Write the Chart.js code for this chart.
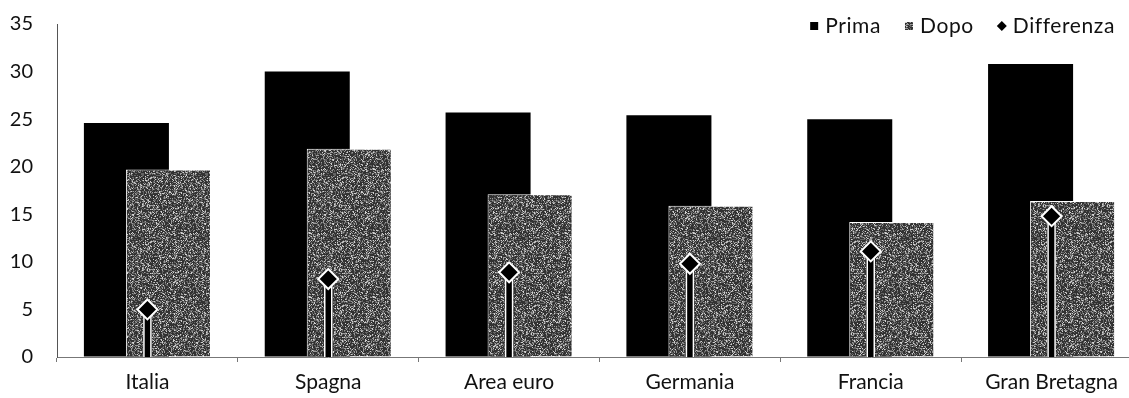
<!DOCTYPE html>
<html>
<head>
<meta charset="utf-8">
<script src="https://cdn.jsdelivr.net/npm/chart.js@4/dist/chart.umd.min.js"></script>
<style>
  html, body { margin: 0; padding: 0; background: #fff; overflow: hidden; }
  #grafico { display: block; }
</style>
</head>
<body>
<canvas id="grafico" width="1145" height="398"></canvas>
<script>
const paesi = ["Italia", "Spagna", "Area euro", "Germania", "Francia", "Gran Bretagna"]
const prima = [24.6, 30.0, 25.7, 25.4, 25.0, 30.8]
const dopo = [19.7, 21.9, 17.1, 15.9, 14.2, 16.4]
const differenza = [5.0, 8.2, 8.9, 9.8, 11.1, 14.8]
const tickAsseY = [0, 5, 10, 15, 20, 25, 30, 35]

const fonte = "Lato"

// trama granulosa grigia per le barre "Dopo" (rumore fisso, non dati)
function creaTrama() {
  const lato = 64
  const c = document.createElement('canvas')
  c.width = lato
  c.height = lato
  const g = c.getContext('2d')
  const img = g.createImageData(lato, lato)
  for (let y = 0; y < lato; y++) {
    for (let x = 0; x < lato; x++) {
      let h = (x * 374761393 + y * 668265263) | 0
      h = Math.imul(h ^ (h >>> 13), 1274126177)
      h = ((h ^ (h >>> 16)) >>> 0) % 100
      const v = h < 8 ? 210 : h < 24 ? 155 : h < 48 ? 100 : 50
      const i = (y * lato + x) * 4
      img.data[i] = v
      img.data[i + 1] = v
      img.data[i + 2] = v
      img.data[i + 3] = 255
    }
  }
  g.putImageData(img, 0, 0)
  return g.createPattern(c, 'repeat')
}

const trama = creaTrama()

// Chart.js disegna i dataset dall'ultimo al primo: "Prima" va messo sotto a "Dopo"
const ordineDisegno = {
  id: 'ordineDisegno',
  beforeDatasetsDraw(chart) {
    chart.getDatasetMeta(0).controller.draw()
  },
  beforeDatasetDraw(chart, args) {
    if (args.index === 0) return false
    if (args.index === 2) {
      // asta nera bordata di bianco dallo zero al rombo
      const ctx = chart.ctx
      const zero = chart.scales.y.getPixelForValue(0)
      ctx.save()
      args.meta.data.forEach(p => {
        ctx.fillStyle = '#000'
        ctx.fillRect(p.x - 4.5, p.y, 9, zero - p.y)
        ctx.strokeStyle = '#fff'
        ctx.lineWidth = 1.5
        ctx.beginPath()
        ctx.moveTo(p.x - 3.5, p.y)
        ctx.lineTo(p.x - 3.5, zero)
        ctx.moveTo(p.x + 3.5, p.y)
        ctx.lineTo(p.x + 3.5, zero)
        ctx.stroke()
      })
      ctx.restore()
    }
  }
}

const legenda = {
  id: 'legenda',
  afterDraw(chart) {
    const ctx = chart.ctx
    const y = 26
    const box = 8
    const gapTesto = 7
    const gapVoci = 24
    ctx.save()
    ctx.font = '21px ' + fonte
    ctx.letterSpacing = '0.6px'
    ctx.textBaseline = 'middle'
    const voci = chart.data.datasets.map(ds => ({
      testo: ds.label,
      colore: ds.type === 'line' ? ds.pointBackgroundColor : ds.backgroundColor,
      rombo: ds.type === 'line'
    }))
    let totale = gapVoci * (voci.length - 1)
    voci.forEach(v => { totale += box + gapTesto + ctx.measureText(v.testo).width })
    let x = 1115 - totale
    voci.forEach(v => {
      ctx.fillStyle = v.colore
      if (v.rombo) {
        ctx.beginPath()
        ctx.moveTo(x + box / 2, y - 5)
        ctx.lineTo(x + box / 2 + 5, y)
        ctx.lineTo(x + box / 2, y + 5)
        ctx.lineTo(x + box / 2 - 5, y)
        ctx.closePath()
        ctx.fill()
      } else {
        ctx.fillRect(x, y - box / 2, box, box)
      }
      x += box + gapTesto
      ctx.fillStyle = '#111'
      ctx.fillText(v.testo, x, y)
      x += ctx.measureText(v.testo).width + gapVoci
    })
    ctx.restore()
  }
}

new Chart(document.getElementById('grafico'), {
  type: 'bar',
  data: {
    labels: paesi,
    datasets: [
      {
        label: 'Prima',
        data: prima,
        backgroundColor: '#000',
        categoryPercentage: 0.4646,
        barPercentage: 2.024
      },
      {
        label: 'Dopo',
        data: dopo,
        backgroundColor: trama,
        borderColor: '#fff',
        borderWidth: 1,
        categoryPercentage: 0.4646,
        barPercentage: 2.024
      },
      {
        type: 'line',
        label: 'Differenza',
        data: differenza,
        order: -1,
        showLine: false,
        pointStyle: 'rectRot',
        pointRadius: 10,
        pointBackgroundColor: '#000',
        pointBorderColor: '#fff',
        pointBorderWidth: 2
      }
    ]
  },
  options: {
    responsive: false,
    animation: false,
    layout: {
      autoPadding: false,
      padding: { top: 24, right: 3, left: 0, bottom: 0 }
    },
    plugins: {
      legend: { display: false },
      tooltip: { enabled: false }
    },
    scales: {
      x: {
        grid: { drawOnChartArea: false, tickLength: 5, color: '#777', offset: true },
        border: { color: '#777', dash: [2, 2] },
        ticks: { color: '#111', font: { family: fonte, size: 21 }, padding: 8, maxRotation: 0, autoSkip: false },
        afterFit(scale) { scale.height = 41 }
      },
      y: {
        min: 0,
        max: 35,
        afterBuildTicks(scale) {
          scale.ticks = tickAsseY.map(v => ({ value: v }))
        },
        grid: { drawOnChartArea: false, tickLength: 12, tickColor: 'transparent' },
        border: { color: '#555' },
        ticks: { color: '#111', font: { family: fonte, size: 20 }, padding: 12 },
        afterFit(scale) { scale.width = 57 }
      }
    }
  },
  plugins: [ordineDisegno, legenda]
})
</script>
</body>
</html>
